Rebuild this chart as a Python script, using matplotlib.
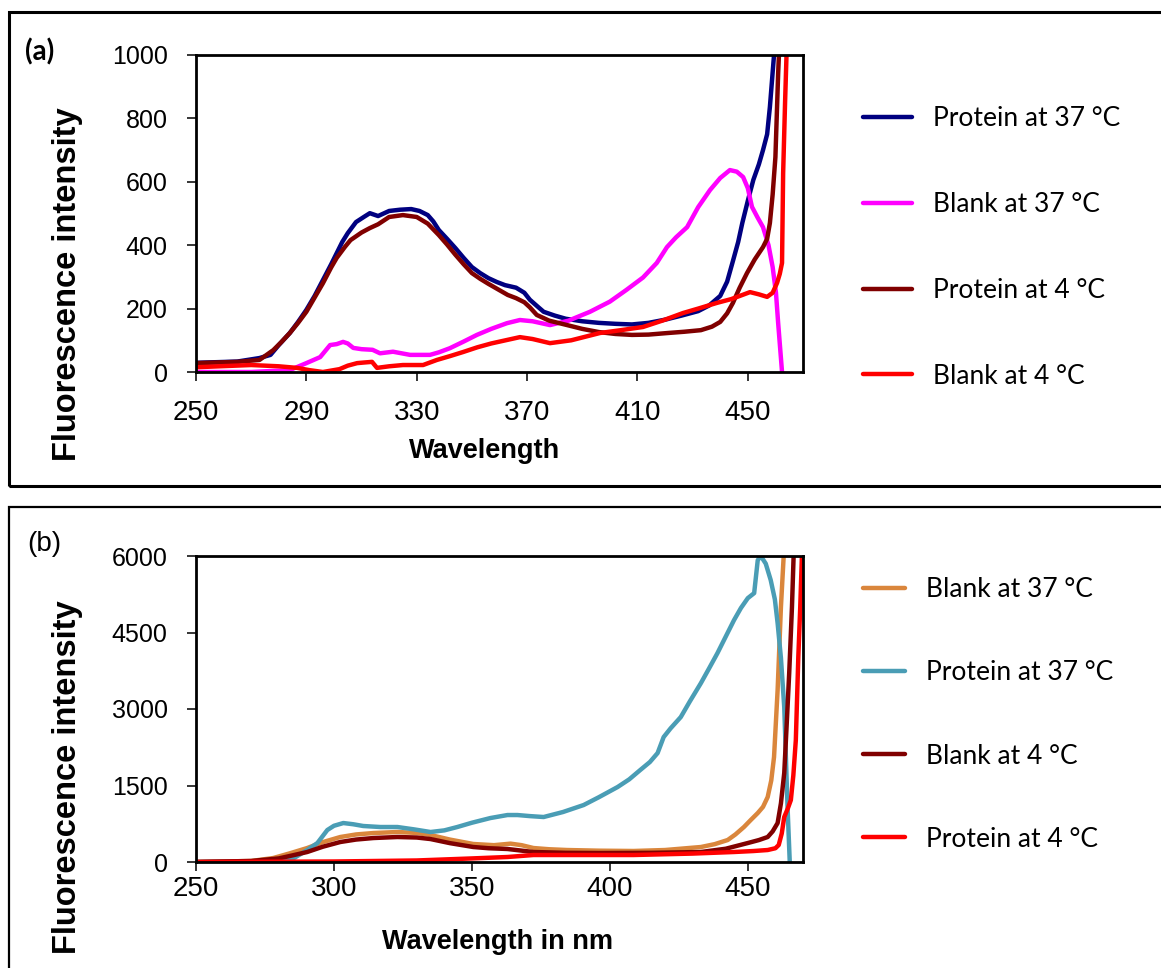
import matplotlib
matplotlib.use("Agg")
import matplotlib.pyplot as plt
from matplotlib import font_manager
from matplotlib.patches import Rectangle

# ---------------- data: panel (a) ----------------
wl_a_prot37 = [250, 265, 273, 277, 280, 284, 287, 290, 293, 296, 299, 301, 303, 305, 308, 311,
               313, 316, 320, 324, 328, 331, 334, 336, 338, 341, 344, 347, 350, 353, 356, 359,
               362, 366, 369, 371, 374, 376, 380, 384, 390, 396, 402, 408, 414, 420, 426, 432,
               436, 440, 442.5, 444.6, 446.5, 448, 450, 452, 454, 455.5, 457, 458, 459.5, 461]
fi_a_prot37 = [29, 33, 44, 54, 85, 123, 158, 196, 240, 290, 340, 375, 410, 438, 473, 490,
               501, 492, 508, 512, 514, 508, 495, 475, 448, 420, 391, 360, 331, 312, 296, 284,
               274, 266, 250, 228, 205, 190, 178, 168, 160, 155, 152, 150, 155, 165, 178, 192,
               210, 240, 285, 350, 410, 470, 540, 606, 655, 700, 750, 836, 1000, 1150]

wl_a_blank37 = [250, 270, 284, 290, 295, 298.6, 301, 303.3, 305, 307, 310, 314, 316.7, 321.4,
                327.6, 334.8, 338, 342, 347, 351.8, 357, 362.7, 367.4, 372, 378.3, 385, 392.8,
                400, 406, 412, 417, 420.7, 424, 428, 432, 436.3, 440, 443.5, 446, 448.3, 450,
                451.5, 453.5, 455.5, 457.5, 459, 460.2, 461, 462.4]
fi_a_blank37 = [0, 0, 6, 28, 47, 85, 88, 95, 90, 76, 72, 70, 59, 64,
                54, 54, 62, 75, 96, 117, 136, 154, 164, 160, 148, 162, 190,
                222, 259, 298, 344, 394, 425, 457, 520, 574, 612, 637, 632, 615, 580,
                521, 488, 457, 400, 331, 250, 154, 0]

wl_a_prot4 = [250, 265, 273, 278, 281, 284, 287, 290, 293, 296, 299, 301, 304, 306, 310, 313,
              316, 320, 325, 330, 334, 338, 341, 344, 347, 350, 353, 356, 360, 363, 366, 369,
              371, 373.5, 378, 384.5, 390, 396, 402, 408, 414, 421, 427, 433, 437, 440, 442.5,
              444.6, 447, 449.7, 452.5, 455.5, 457, 458, 459, 460, 461, 462]
fi_a_prot4 = [28, 32, 38, 69, 95, 123, 155, 190, 235, 280, 330, 360, 395, 416, 440, 454,
              466, 489, 495, 489, 468, 432, 402, 370, 340, 312, 294, 278, 258, 243, 233, 220,
              204, 180, 162, 148, 136, 126, 120, 117, 118, 123, 127, 132, 143, 158, 185,
              218, 265, 312, 355, 394, 420, 470, 560, 678, 943, 1150]

wl_a_blank4 = [250, 270, 280, 286.6, 291, 296, 302, 305, 308.4, 311, 313.8, 315.6, 320, 325,
               332.3, 337.3, 342, 346.8, 352, 357, 362.7, 367.4, 372, 378.3, 386, 396.4, 404,
               412, 419, 426.5, 432, 438.8, 444, 450.8, 454, 457, 459, 460.6, 461.6, 462.4,
               462.8, 463.5, 464.2]
fi_a_blank4 = [15, 22, 18, 13, 6, 0, 9, 20, 28, 30, 32, 13, 18, 22,
               22, 38, 50, 63, 78, 90, 101, 110, 104, 91, 100, 123, 132,
               142, 162, 186, 200, 218, 230, 252, 245, 237, 250, 281, 310, 344,
               627, 850, 1050]

# ---------------- data: panel (b) ----------------
wl_b_blank37 = [250, 270, 278, 284, 290.3, 296, 302.3, 308, 314.3, 323, 330, 335, 342, 350.5,
                358, 364, 368, 372.3, 378, 384.5, 396, 408.6, 420, 433, 438, 442.7, 445.5,
                448.6, 451, 453.6, 455.5, 457.2, 458.5, 459.5, 460.8, 462, 463, 463.5]
fi_b_blank37 = [0, 20, 78, 170, 274, 390, 490, 540, 568, 588, 570, 529, 440, 353,
                330, 360, 330, 274, 250, 235, 222, 216, 235, 294, 350, 431, 540,
                686, 820, 960, 1080, 1274, 1600, 2058, 3371, 5000, 6000, 6500]

wl_b_prot37 = [250, 280, 285, 290.3, 294, 297.6, 300, 303.4, 307, 310.6, 316.8, 323, 329, 335,
               340, 344.7, 350, 356.7, 362.9, 366.5, 371, 376, 383, 390.5, 396, 402.8, 407,
               411, 414.5, 417.3, 419.5, 422, 425.7, 429, 433, 436, 439, 442, 445, 447.5, 450,
               452.3, 453.6, 454.7, 456.5, 458.3, 459.8, 460.8, 462, 463.2, 464.4, 465.2]
fi_b_prot37 = [0, 20, 60, 235, 372, 627, 710, 764, 740, 706, 686, 686, 640, 588,
               620, 686, 770, 862, 921, 921, 900, 882, 980, 1117, 1270, 1470, 1620,
               1803, 1960, 2136, 2450, 2620, 2842, 3150, 3508, 3800, 4096, 4420, 4743, 4980, 5174,
               5272, 5919, 6000, 5850, 5527, 5150, 4684, 4000, 3038, 1078, 0]

wl_b_blank4 = [250, 270, 280, 285, 290.3, 296, 302.3, 308, 314.3, 323, 330, 335, 342, 350.5,
               356, 362.9, 372.3, 384, 396.7, 415, 433, 442, 450, 454, 457.2, 459, 460.8,
               462, 463.2, 464, 465, 466, 466.6, 467.2]
fi_b_blank4 = [0, 20, 70, 130, 196, 300, 392, 440, 470, 490, 480, 450, 370, 294,
               270, 255, 196, 180, 176, 180, 196, 260, 372, 430, 490, 600, 764,
               1150, 1744, 2600, 3704, 5000, 6000, 6600]

wl_b_prot4 = [250, 300, 330, 350, 362.9, 372.3, 390, 408.6, 430, 445, 452, 457.2, 460, 461.2,
              462.3, 463.2, 464.5, 465.6, 466.5, 467.4, 468.3, 469, 469.6, 470]
fi_b_prot4 = [0, 10, 30, 70, 98, 137, 137, 137, 165, 196, 215, 235, 270, 333,
              560, 882, 1050, 1215, 1700, 2391, 4018, 5000, 6000, 6600]

labels_a = ["Protein at 37 \u00b0C", "Blank at 37 \u00b0C", "Protein at 4 \u00b0C", "Blank at 4 \u00b0C"]
labels_b = ["Blank at 37 \u00b0C", "Protein at 37 \u00b0C", "Blank at 4 \u00b0C", "Protein at 4 \u00b0C"]
colors_a = ["#000080", "#FF00FF", "#800000", "#FF0000"]
colors_b = ["#DA863C", "#4A9DB5", "#800000", "#FF0000"]

xticks_a = [250, 290, 330, 370, 410, 450]
yticks_a = [0, 200, 400, 600, 800, 1000]
xticks_b = [250, 300, 350, 400, 450]
yticks_b = [0, 1500, 3000, 4500, 6000]

# ---------------- fonts ----------------
installed = {f.name for f in font_manager.fontManager.ttflist}
narrow_ok = "Liberation Sans Narrow" in installed
tick_font = "Liberation Sans Narrow" if narrow_ok else "Liberation Sans"
ytick_size = 20 if narrow_ok else 18
xtick_size = 23 if narrow_ok else 20
xlab_font = tick_font
xlab_size = 23 if narrow_ok else 19.5
legend_font = "Lato"

W, H = 1161, 968
fig = plt.figure(figsize=(W / 100, H / 100), dpi=100)


def frac_box(left, top, right, bottom):
    return [left / W, 1 - bottom / H, (right - left) / W, (bottom - top) / H]


ax_a = fig.add_axes(frac_box(196, 55, 803, 372))
ax_b = fig.add_axes(frac_box(196, 556, 803, 862))

series_a = [(wl_a_prot37, fi_a_prot37), (wl_a_blank37, fi_a_blank37),
            (wl_a_prot4, fi_a_prot4), (wl_a_blank4, fi_a_blank4)]
series_b = [(wl_b_blank37, fi_b_blank37), (wl_b_prot37, fi_b_prot37),
            (wl_b_blank4, fi_b_blank4), (wl_b_prot4, fi_b_prot4)]

for (x, y), c, lab in zip(series_a, colors_a, labels_a):
    ax_a.plot(x, y, color=c, lw=3.2, label=lab, solid_capstyle="round", solid_joinstyle="round")
for (x, y), c, lab in zip(series_b, colors_b, labels_b):
    ax_b.plot(x, y, color=c, lw=3.2, label=lab, solid_capstyle="round", solid_joinstyle="round")


def style_axes(ax, xticks, yticks, ylim, xpad):
    ax.set_xlim(250, 470)
    ax.set_ylim(*ylim)
    ax.set_xticks(xticks)
    ax.set_yticks(yticks)
    for s in ax.spines.values():
        s.set_linewidth(2.0)
        s.set_color("black")
    ax.tick_params(axis="both", direction="out", length=6.5, width=1.1, color="black")
    ax.tick_params(axis="y", pad=14)
    ax.tick_params(axis="x", pad=xpad)
    for t in ax.get_yticklabels():
        t.set_fontfamily(tick_font)
        t.set_fontsize(ytick_size)
    for t in ax.get_xticklabels():
        t.set_fontfamily(tick_font)
        t.set_fontsize(xtick_size)


style_axes(ax_a, xticks_a, yticks_a, (0, 1000), 13.5)
style_axes(ax_b, xticks_b, yticks_b, (0, 6000), 3.5)

# axis titles
for ax, ly in ((ax_a, 0.2776), (ax_b, 0.2778)):
    ax.set_ylabel("Fluorescence intensity", fontfamily="Liberation Sans", fontweight="bold",
                  fontsize=23.5, va="center")
    ax.yaxis.set_label_coords(-0.2109, ly)

ax_a.set_xlabel("Wavelength", fontfamily=xlab_font, fontweight="bold", fontsize=xlab_size, va="center")
ax_a.xaxis.set_label_coords(0.476, -0.25)
ax_b.set_xlabel("Wavelength in nm", fontfamily=xlab_font, fontweight="bold", fontsize=xlab_size, va="center")
ax_b.xaxis.set_label_coords(0.4967, -0.2614)

# legends to the right of each plot
fig.legend(*ax_a.get_legend_handles_labels(), loc="center left",
           bbox_to_anchor=(863 / W, 1 - 247.5 / H), frameon=False,
           prop={"family": legend_font, "size": 19}, handlelength=1.86,
           handletextpad=0.8, labelspacing=2.3, borderpad=0, borderaxespad=0)
fig.legend(*ax_b.get_legend_handles_labels(), loc="center left",
           bbox_to_anchor=(863 / W, 1 - 714.5 / H), frameon=False,
           prop={"family": legend_font, "size": 19}, handlelength=1.6,
           handletextpad=0.8, labelspacing=2.2, borderpad=0, borderaxespad=0)

# panel letters
fig.text(25 / W, 1 - 52 / H, "(a)", fontfamily=legend_font, fontweight="bold", fontsize=20,
         ha="left", va="center")
fig.text(27 / W, 1 - 544 / H, "(b)", fontfamily="Liberation Sans", fontsize=20,
         ha="left", va="center")

# panel frames
fig.add_artist(Rectangle((9 / W, 1 - 486 / H), 1.2, (486 - 12) / H, transform=fig.transFigure,
                         fill=False, edgecolor="black", linewidth=2.2))
fig.add_artist(Rectangle((9 / W, -0.2), 1.2, 0.2 + (968 - 507) / H, transform=fig.transFigure,
                         fill=False, edgecolor="black", linewidth=1.6))

fig.savefig("out.png", dpi=100)
